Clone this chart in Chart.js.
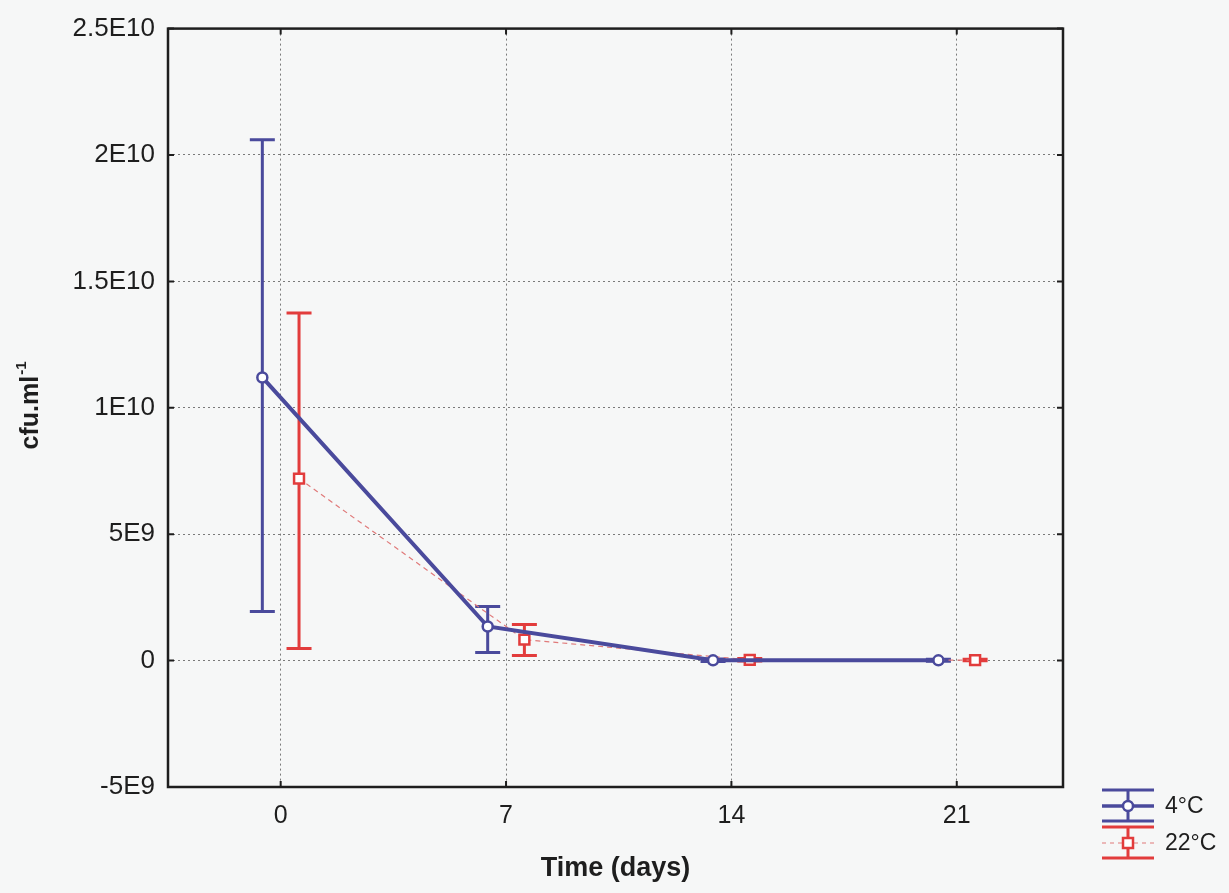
<!DOCTYPE html>
<html>
<head>
<meta charset="utf-8">
<script src="https://cdn.jsdelivr.net/npm/chart.js@4"></script>
<style>
  body { margin: 0; background: #f6f7f7; }
  canvas { display: block; }
</style>
</head>
<body>
<canvas id="chart" width="1229" height="893"></canvas>
<script>
// data (cfu per ml)
const days = [0, 7, 14, 21];
const mean4 = [1.12e10, 1.35e9, 0.01e9, 0.01e9];
const low4 = [1.94e9, 0.32e9, -0.04e9, -0.03e9];
const high4 = [2.06e10, 2.14e9, 0.06e9, 0.05e9];
const mean22 = [7.2e9, 0.83e9, 0.03e9, 0.02e9];
const low22 = [0.48e9, 0.2e9, -0.02e9, -0.01e9];
const high22 = [1.375e10, 1.43e9, 0.08e9, 0.05e9];
const yTicks = [-5e9, 0, 5e9, 1e10, 1.5e10, 2e10, 2.5e10];
const yTickLabels = ['-5E9', '0', '5E9', '1E10', '1.5E10', '2E10', '2.5E10'];
const seriesNames = ['4\u00B0C', '22\u00B0C'];

const BLUE = '#4a4a9c';
const RED = '#e23c3c';
const SHIFT = 0.57; // days, groups are drawn side by side

const errs = [
  { low: low4, high: high4, color: BLUE, shift: -SHIFT },
  { low: low22, high: high22, color: RED, shift: SHIFT }
];

const errorBars = {
  id: 'errorBars',
  beforeDatasetsDraw(chart) {
    const { ctx, scales: { x, y } } = chart;
    ctx.save();
    errs.forEach(e => {
      ctx.strokeStyle = e.color;
      ctx.lineWidth = 3;
      days.forEach((d, i) => {
        const px = x.getPixelForValue(d + e.shift);
        const top = y.getPixelForValue(e.high[i]);
        const bot = y.getPixelForValue(e.low[i]);
        ctx.beginPath();
        ctx.moveTo(px, top); ctx.lineTo(px, bot);
        ctx.moveTo(px - 12.5, top); ctx.lineTo(px + 12.5, top);
        ctx.moveTo(px - 12.5, bot); ctx.lineTo(px + 12.5, bot);
        ctx.stroke();
      });
    });
    ctx.restore();
  }
};

const frame = {
  id: 'frame',
  beforeDatasetsDraw(chart) {
    const { ctx, chartArea: a, scales: { x, y } } = chart;
    ctx.save();
    ctx.strokeStyle = '#1e1e1e';
    ctx.lineWidth = 2.5;
    ctx.strokeRect(a.left, a.top, a.right - a.left, a.bottom - a.top);
    ctx.lineWidth = 2;
    ctx.beginPath();
    yTicks.forEach(v => {
      const py = y.getPixelForValue(v);
      ctx.moveTo(a.left, py); ctx.lineTo(a.left + 6, py);
      ctx.moveTo(a.right, py); ctx.lineTo(a.right - 6, py);
    });
    days.forEach(v => {
      const px = x.getPixelForValue(v);
      ctx.moveTo(px, a.bottom); ctx.lineTo(px, a.bottom - 6);
      ctx.moveTo(px, a.top); ctx.lineTo(px, a.top + 6);
    });
    ctx.stroke();
    ctx.restore();
  },
  afterDraw(chart) {
    const { ctx } = chart;
    ctx.save();
    // y axis title with superscript
    ctx.translate(31, 406);
    ctx.rotate(-Math.PI / 2);
    ctx.fillStyle = '#1e1e1e';
    ctx.textBaseline = 'middle';
    const main = 'cfu.ml';
    ctx.font = 'bold 25px "Liberation Sans", Arial, sans-serif';
    const w1 = ctx.measureText(main).width;
    ctx.font = 'bold 15px "Liberation Sans", Arial, sans-serif';
    const w2 = ctx.measureText('-1').width;
    const start = -(w1 + w2) / 2;
    ctx.font = 'bold 25px "Liberation Sans", Arial, sans-serif';
    ctx.textAlign = 'left';
    ctx.fillText(main, start, 0);
    ctx.font = 'bold 15px "Liberation Sans", Arial, sans-serif';
    ctx.fillText('-1', start + w1 + 1, -9);
    ctx.restore();

    // legend
    ctx.save();
    const lx = 1128, half = 26;
    const rows = [
      { y: 806, color: BLUE, name: seriesNames[0], dash: [], lw: 3.5, marker: 'circle' },
      { y: 843, color: RED, name: seriesNames[1], dash: [4, 4], lw: 1.2, marker: 'rect' }
    ];
    rows.forEach(r => {
      ctx.strokeStyle = r.color;
      ctx.lineWidth = 3;
      ctx.beginPath();
      ctx.moveTo(lx - half, r.y - 16); ctx.lineTo(lx + half, r.y - 16);
      ctx.moveTo(lx - half, r.y + 15); ctx.lineTo(lx + half, r.y + 15);
      ctx.moveTo(lx, r.y - 16); ctx.lineTo(lx, r.y + 15);
      ctx.stroke();
      ctx.setLineDash(r.dash);
      ctx.lineWidth = r.lw;
      ctx.strokeStyle = r.marker === 'rect' ? '#e07a7a' : r.color;
      ctx.beginPath();
      ctx.moveTo(lx - half, r.y); ctx.lineTo(lx + half, r.y);
      ctx.stroke();
      ctx.setLineDash([]);
      ctx.fillStyle = '#ffffff';
      ctx.strokeStyle = r.color;
      ctx.lineWidth = 2.5;
      ctx.beginPath();
      if (r.marker === 'circle') ctx.arc(lx, r.y, 5, 0, Math.PI * 2);
      else ctx.rect(lx - 5, r.y - 5, 10, 10);
      ctx.fill(); ctx.stroke();
      ctx.fillStyle = '#1e1e1e';
      ctx.font = '23px "Liberation Sans", Arial, sans-serif';
      ctx.textBaseline = 'middle';
      ctx.textAlign = 'left';
      ctx.fillText(r.name, 1165, r.y + 1);
    });
    ctx.restore();
  }
};

const ctx = document.getElementById('chart').getContext('2d');
new Chart(ctx, {
  type: 'line',
  data: {
    datasets: [
      {
        label: seriesNames[0],
        data: days.map((d, i) => ({ x: d - SHIFT, y: mean4[i] })),
        borderColor: BLUE,
        borderWidth: 4,
        tension: 0,
        pointStyle: 'circle',
        pointRadius: 5,
        pointBackgroundColor: '#ffffff',
        pointBorderColor: BLUE,
        pointBorderWidth: 2.5
      },
      {
        label: seriesNames[1],
        data: days.map((d, i) => ({ x: d + SHIFT, y: mean22[i] })),
        borderColor: '#e07a7a',
        borderWidth: 1.2,
        borderDash: [5, 4],
        tension: 0,
        pointStyle: 'rect',
        pointRadius: 7,
        pointBackgroundColor: '#ffffff',
        pointBorderColor: RED,
        pointBorderWidth: 2.5
      }
    ]
  },
  options: {
    responsive: false,
    animation: false,
    layout: { padding: { top: 27, right: 166, left: 0, bottom: 0 } },
    scales: {
      x: {
        type: 'linear',
        min: -3.5,
        max: 24.3,
        afterBuildTicks: s => { s.ticks = days.map(v => ({ value: v })); },
        afterFit: s => { s.height = 106; },
        grid: { color: '#7a7a7a', lineWidth: 1, drawTicks: false },
        border: { display: false, dash: [2, 3] },
        ticks: {
          padding: 14,
          color: '#1e1e1e',
          font: { family: '"Liberation Sans", Arial, sans-serif', size: 25 },
          callback: v => String(v)
        },
        title: {
          display: true,
          text: 'Time (days)',
          color: '#1e1e1e',
          padding: { top: 0, bottom: 8 },
          font: { family: '"Liberation Sans", Arial, sans-serif', size: 27, weight: 'bold' }
        }
      },
      y: {
        min: -5e9,
        max: 2.5e10,
        afterBuildTicks: s => { s.ticks = yTicks.map(v => ({ value: v })); },
        afterFit: s => { s.width = 168; },
        grid: { color: '#7a7a7a', lineWidth: 1, drawTicks: false },
        border: { display: false, dash: [2, 3] },
        ticks: {
          padding: 13,
          color: '#1e1e1e',
          font: { family: '"Liberation Sans", Arial, sans-serif', size: 26 },
          callback: v => yTickLabels[yTicks.indexOf(v)]
        }
      }
    },
    plugins: {
      legend: { display: false },
      tooltip: { enabled: false }
    }
  },
  plugins: [errorBars, frame]
});
</script>
</body>
</html>
